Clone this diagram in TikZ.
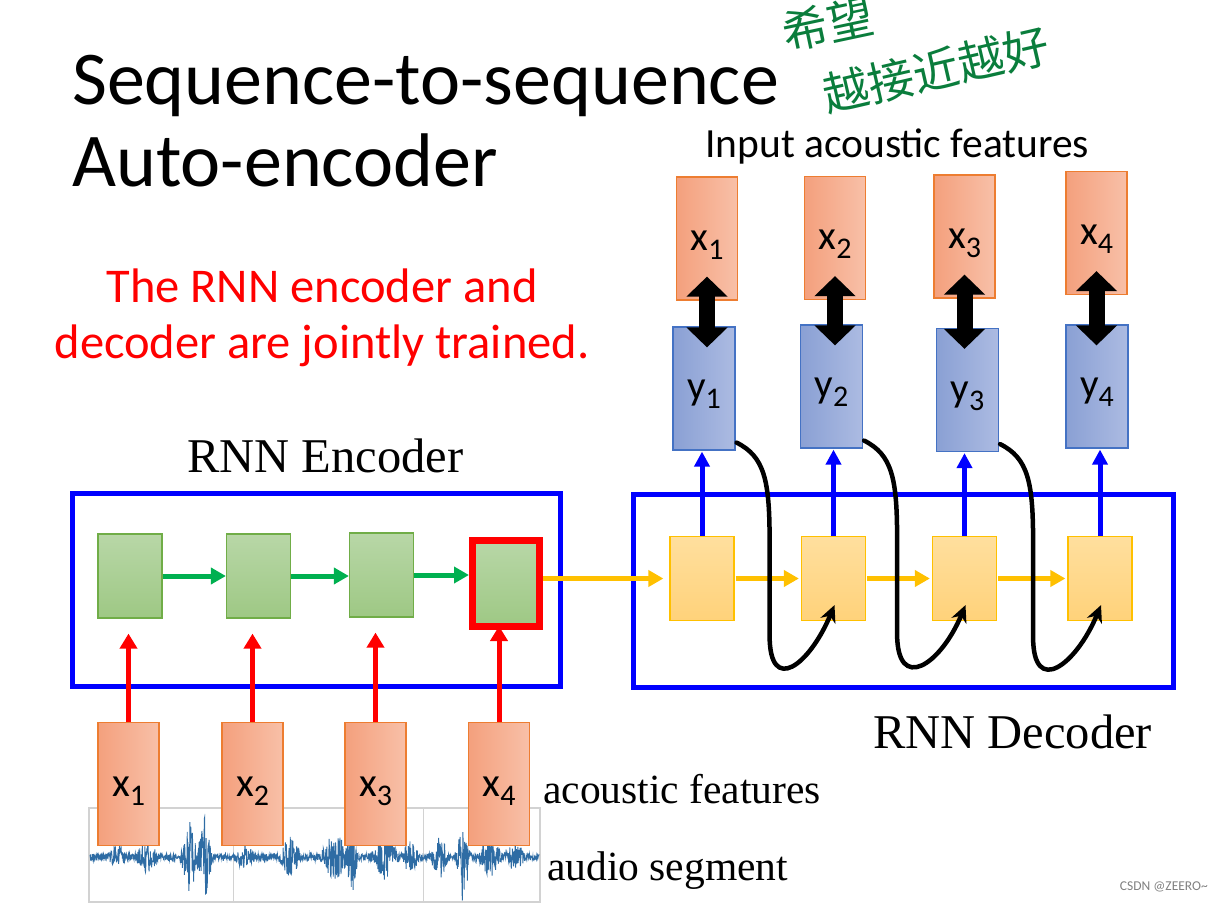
\documentclass[tikz,border=0pt]{standalone}
\usepackage{fontspec}
\setmainfont{Liberation Serif}
\newfontfamily\calibri{Carlito}
\newfontfamily\handcjk{Noto Sans CJK SC}
\usepackage{tikz}
\usetikzlibrary{positioning}
\usetikzlibrary{calc}
\usetikzlibrary{arrows.meta}
\definecolor{featL}{RGB}{244,160,125}
\definecolor{featR}{RGB}{248,192,168}
\definecolor{featline}{RGB}{237,125,49}
\definecolor{outL}{RGB}{138,160,212}
\definecolor{outR}{RGB}{172,187,226}
\definecolor{outline}{RGB}{68,114,196}
\definecolor{cellT}{RGB}{184,215,167}
\definecolor{cellB}{RGB}{158,200,132}
\definecolor{cellline}{RGB}{112,173,71}
\definecolor{hidT}{RGB}{255,223,158}
\definecolor{hidB}{RGB}{255,210,122}
\definecolor{hidline}{RGB}{255,192,0}
\definecolor{arrgreen}{RGB}{0,176,80}
\definecolor{wavecol}{RGB}{46,108,164}
\definecolor{handgreen}{RGB}{10,125,60}
\newcommand{\boxfont}{\calibri\fontsize{41}{41}\selectfont}
\newcommand{\sublbl}[2]{#1\raisebox{-9pt}{\fontsize{30}{30}\selectfont #2}}
\pgfmathdeclarefunction{burst}{3}{\pgfmathparse{max(0,1-abs(#1-#2)/#3)}}

\begin{document}
\begin{tikzpicture}[x=1pt, y=-1pt,
    title/.style={anchor=base west, inner sep=0pt, font=\calibri\fontsize{76}{76}\selectfont},
    note/.style={anchor=base, inner sep=0pt, text=red, font=\calibri\fontsize{48.5}{48.5}\selectfont},
    serif/.style={anchor=base west, inner sep=0pt, font=\fontsize{48.5}{48.5}\selectfont},
    small/.style={anchor=base west, inner sep=0pt, font=\fontsize{41.5}{41.5}\selectfont},
    hand/.style={inner sep=0pt, text=handgreen, font=\handcjk\fontsize{46}{46}\selectfont},
    rnnbox/.style={draw=blue, line width=5pt, minimum width=#1, minimum height=193pt},
    feat/.style={draw=featline, line width=1.2pt, left color=featL, right color=featR,
      minimum width=61pt, minimum height=123pt, inner sep=0pt, font=\boxfont,
      text height=24pt, text depth=0pt},
    outcell/.style={draw=outline, line width=1.2pt, left color=outL, right color=outR,
      minimum width=62pt, minimum height=123pt, inner sep=0pt, font=\boxfont,
      text height=22pt, text depth=0pt},
    enccell/.style={draw=cellline, line width=1.2pt, top color=cellT, bottom color=cellB,
      minimum width=64pt, minimum height=84pt},
    deccell/.style={draw=hidline, line width=1.2pt, top color=hidT, bottom color=hidB,
      minimum width=64pt, minimum height=84pt},
    redarr/.style={red, line width=5pt, -{Triangle[width=17pt,length=15pt]}},
    greenarr/.style={arrgreen, line width=5pt, -{Triangle[width=16pt,length=15pt]}},
    orangearr/.style={hidline, line width=5pt, -{Triangle[width=16pt,length=15pt]}},
    bluearr/.style={blue, line width=5pt, -{Triangle[width=15pt,length=15pt]}},
    bigarr/.style={black, line width=16pt,
      {Triangle[width=40pt,length=20pt]}-{Triangle[width=40pt,length=20pt]}},
    feedback/.style={black, line width=4.5pt, line cap=round, -{Stealth[width=16pt,length=17pt]}},
    wave/.style={wavecol, line width=0.9pt}]
  \useasboundingbox (0,0) rectangle (1218,909);

  % headings
  \node[title] (title1) at (72,105) {Sequence-to-sequence};
  \node[title] (title2) at (72,187) {Auto-encoder};
  \node[hand, rotate=12] (hw1) at (828,24) {希望};
  \node[hand, rotate=13] (hw2) at (936,70) {越接近越好};
  \node[note] (note1) at (322,302) {The RNN encoder and};
  \node[note] (note2) at (322,358) {decoder are jointly trained.};
  \node[anchor=base west, inner sep=0pt, font=\calibri\fontsize{41.5}{41.5}\selectfont] (intitle) at (705,158) {Input acoustic features};

  % the two frames
  \node[rnnbox=488pt] (encoder) at (316.5,589.5) {};
  \node[rnnbox=540pt] (decoder) at (903,591) {};
  \node[serif] (enclbl) at (187,472) {RNN Encoder};
  \node[serif] (declbl) at (873,748) {RNN Decoder};

  % audio segment
  \draw[gray!35, line width=1.2pt] (89,808) rectangle (540,902);
  \draw[gray!35, line width=1pt] (233,808) -- (233,902) (423,808) -- (423,902);
  \pgfmathsetseed{42}
  \draw[wave] plot[domain=90:539, samples=1400]
    (\x, {857 + (3.5 + 10*burst(\x,118,10) + 15*burst(\x,147,12) + 35*burst(\x,190,10)
      + 42*burst(\x,205,8) + 12*burst(\x,245,10) + 18*burst(\x,290,12) + 25*burst(\x,335,15)
      + 42*burst(\x,352,6) + 20*burst(\x,385,15) + 15*burst(\x,410,10) + 20*burst(\x,440,10)
      + 46*burst(\x,463,8) + 20*burst(\x,490,12) + 15*burst(\x,515,10))*rand});
  \node[small] (featlbl) at (543,803) {acoustic features};
  \node[small] (audiolbl) at (547,880) {audio segment};

  % encoder
  \node[feat] (in1) at (128.5,784) {\sublbl{x}{1}};
  \node[feat] (in2) at (252.5,784) {\sublbl{x}{2}};
  \node[feat] (in3) at (375.5,784) {\sublbl{x}{3}};
  \node[feat] (in4) at (499,784) {\sublbl{x}{4}};
  \node[enccell] (e1) at (130,576) {};
  \node[enccell] (e2) at (258.5,576) {};
  \node[enccell] (e3) at (381.5,575) {};
  \node[enccell, draw=red, line width=7pt, minimum width=67pt, minimum height=86pt] (e4) at (506,583.5) {};
  \foreach \i in {1,2,3}
    \draw[redarr, shorten >=15pt] (in\i.north) -- (in\i.north |- e\i.south);
  \draw[redarr, shorten >=-4pt] (in4.north) -- (in4.north |- e4.south);
  \foreach \i/\j in {1/2,2/3,3/4}
    \draw[greenarr] (e\i.east) -- (e\i.east -| e\j.west);

  % decoder
  \node[deccell] (d1) at (702,578.5) {};
  \node[deccell] (d2) at (833.5,578.5) {};
  \node[deccell] (d3) at (964.5,578.5) {};
  \node[deccell] (d4) at (1100,578.5) {};
  \draw[orangearr, shorten >=6pt] (e4.east |- d1.west) -- (d1.west);
  \foreach \i/\j in {1/2,2/3,3/4}
    \draw[orangearr, shorten <=1pt, shorten >=2pt] (d\i) -- (d\j);

  \node[outcell] (y1) at (704,388.5) {\sublbl{y}{1}};
  \node[outcell] (y2) at (831.5,386.5) {\sublbl{y}{2}};
  \node[outcell] (y3) at (967.5,390) {\sublbl{y}{3}};
  \node[outcell] (y4) at (1097,386.5) {\sublbl{y}{4}};
  \node[feat] (t1) at (707,238.5) {\sublbl{x}{1}};
  \node[feat] (t2) at (835,238) {\sublbl{x}{2}};
  \node[feat] (t3) at (964.5,236.5) {\sublbl{x}{3}};
  \node[feat] (t4) at (1096.5,233) {\sublbl{x}{4}};

  \foreach \i in {1,...,4}{
    \draw[bluearr, shorten >=1pt] (d\i.north) -- (d\i.north |- y\i.south);
    \draw[bigarr] ($(t\i.south)+(0,-24)$) -- ($(t\i.south |- y\i.north)+(0,21)$);
  }
  \foreach \a/\b in {1/2,2/3,3/4}{
    \coordinate (fs\a) at ($(y\a.south east)+(1,-8)$);
    \draw[feedback] (fs\a) .. controls ($(fs\a)+(28,14)$) and ($(fs\a)+(33,38)$) .. ($(fs\a)+(33,98)$)
      -- ($(fs\a)+(33,193)$) .. controls ($(fs\a)+(33,253)$) and ($(d\b.south)+(-24,44)$) .. ($(d\b.south)+(1,-16)$);
  }

  \node[anchor=base east, inner sep=0pt, text=gray, font=\calibri\fontsize{13.5}{13.5}\selectfont] (mark) at (1208,890) {CSDN @ZEERO\textasciitilde};
\end{tikzpicture}
\end{document}
